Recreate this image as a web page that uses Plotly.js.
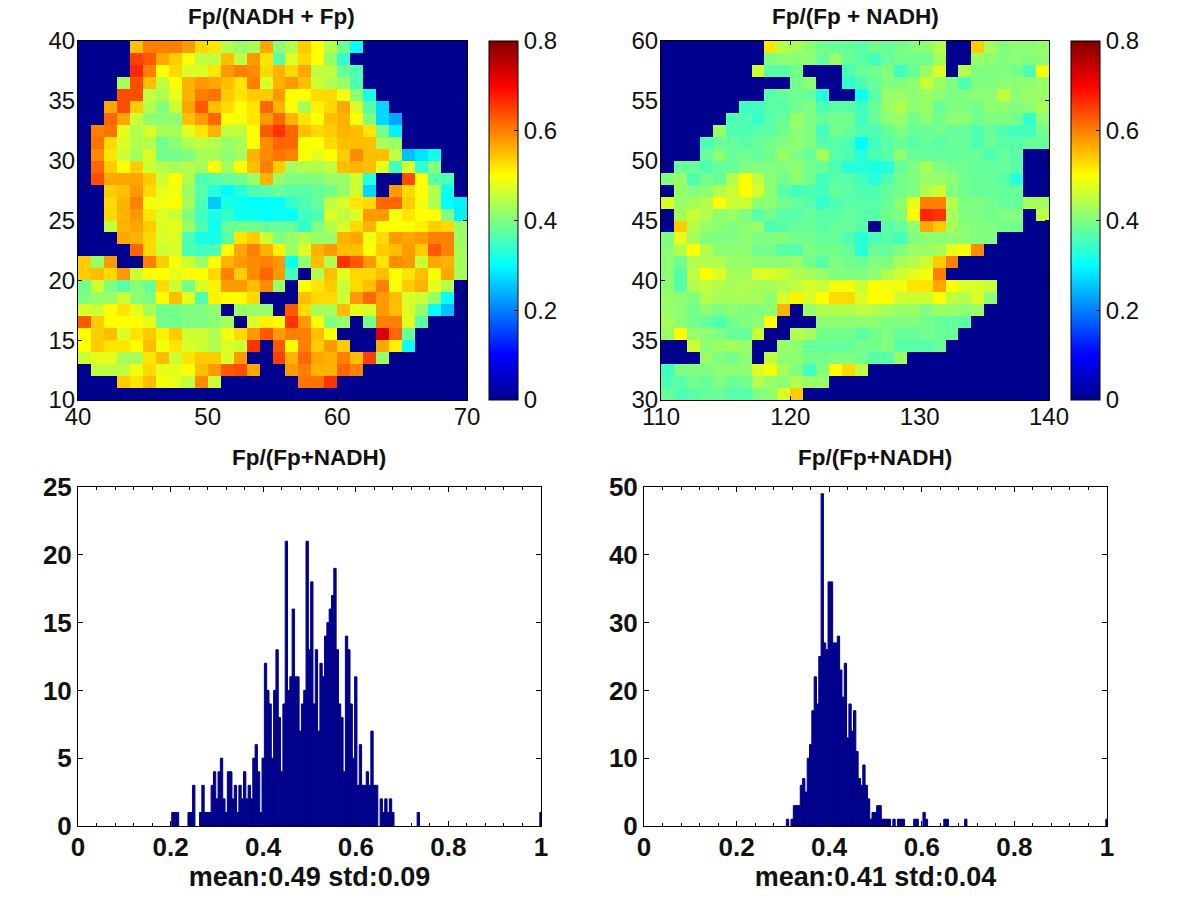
<!DOCTYPE html>
<html>
<head>
<meta charset="utf-8">
<script src="https://cdn.plot.ly/plotly-3.0.1.min.js"></script>
<style>html,body{margin:0;padding:0;background:#fff}#chart{width:1200px;height:900px}</style>
</head>
<body>
<div id="chart"></div>
<script>
// Ratio maps, in hundredths; rows run from the top of each map to the bottom.
const mapLeftRows = [
[0,0,0,0,55,60,60,60,58,53,52,44,42,43,57,41,44,54,50,44,39,30,0,0,0,0,0,0,0,0],
[0,0,0,0,65,63,57,54,50,45,45,55,45,58,52,37,47,53,50,42,34,0,0,0,0,0,0,0,0,0],
[0,0,0,0,67,60,50,53,47,47,52,58,60,59,53,56,53,57,45,45,38,36,0,0,0,0,0,0,0,0],
[0,0,0,43,64,55,45,50,56,58,57,55,52,60,47,56,58,55,46,44,42,36,0,0,0,0,0,0,0,0],
[0,0,0,64,64,45,44,48,56,60,61,54,52,54,54,58,50,50,53,53,49,41,32,0,0,0,0,0,0,0],
[0,0,57,64,54,44,40,46,57,63,55,53,50,52,62,56,50,43,51,53,57,47,37,27,0,0,0,0,0,0],
[0,0,62,57,46,41,41,41,55,58,62,50,49,52,58,62,56,52,50,55,56,50,40,27,23,0,0,0,0,0],
[0,60,61,48,44,47,43,43,48,52,56,45,45,50,63,66,62,55,53,54,56,55,52,39,29,0,0,0,0,0],
[0,61,53,47,44,44,39,41,44,45,44,42,43,50,59,62,62,50,50,53,55,55,55,43,42,0,0,0,0,0],
[0,59,52,46,43,47,39,39,40,43,43,41,43,56,59,61,60,50,48,50,54,59,55,55,45,25,28,31,0,0],
[0,62,54,50,54,46,44,43,44,43,50,43,50,55,60,54,43,44,44,45,55,56,55,48,35,47,34,40,0,0],
[0,64,57,57,57,54,46,50,44,36,37,38,39,42,56,42,40,40,40,42,42,46,33,0,0,64,50,37,36,0],
[0,0,54,55,58,53,48,49,42,37,33,30,33,36,37,38,37,37,38,39,42,46,27,0,58,53,50,44,31,0],
[0,0,53,56,60,49,49,50,43,36,26,32,31,30,30,30,34,36,38,45,47,52,53,62,62,54,49,44,30,29],
[0,0,53,56,58,52,47,46,40,35,32,34,31,31,30,31,30,35,36,47,45,47,58,58,49,52,50,50,40,29],
[0,0,45,56,57,54,47,48,42,36,31,38,39,39,38,38,38,34,40,44,47,53,56,50,50,50,51,54,53,42],
[0,0,0,57,56,53,47,47,36,32,32,37,52,54,46,40,42,44,42,42,56,57,49,53,58,57,58,60,60,42],
[0,0,0,0,62,53,46,47,36,35,36,50,57,60,56,51,42,47,56,58,55,55,50,54,55,58,54,63,60,43],
[54,42,58,0,0,60,54,49,46,42,50,56,58,59,60,58,31,41,55,44,66,63,58,52,59,58,46,57,56,43],
[54,55,53,58,46,50,50,48,50,50,53,60,54,59,62,58,35,0,44,55,48,53,53,55,50,52,55,50,57,43],
[39,46,40,37,41,38,53,46,39,47,51,58,58,55,59,42,0,50,52,54,46,53,55,60,50,54,56,48,44,0],
[40,42,42,46,41,40,50,55,48,36,51,50,50,53,0,0,0,55,53,53,46,58,62,58,55,47,46,42,30,0],
[47,46,50,52,48,43,39,39,40,40,41,0,42,42,42,0,63,53,43,43,55,48,47,58,55,47,42,30,25,0],
[63,54,50,50,50,48,39,39,40,40,41,43,0,47,51,50,66,58,50,40,42,0,39,60,60,48,37,0,0,0],
[50,54,55,47,52,54,51,54,46,46,44,49,53,58,63,58,60,60,55,50,0,0,0,73,62,38,0,0,0,0],
[50,54,52,52,50,55,49,52,47,46,44,47,46,66,0,63,50,60,54,58,54,0,0,57,51,31,0,0,0,0],
[46,48,48,43,43,52,55,46,52,54,54,47,58,0,0,65,56,62,57,56,60,55,65,42,0,0,0,0,0,0],
[0,45,45,45,49,53,48,48,50,55,58,63,64,57,0,0,58,60,56,56,62,60,0,0,0,0,0,0,0,0],
[0,0,0,54,52,55,49,48,45,59,46,0,0,0,0,0,0,61,61,66,0,0,0,0,0,0,0,0,0,0],
[0,0,0,0,0,0,0,0,0,0,0,0,0,0,0,0,0,0,0,0,0,0,0,0,0,0,0,0,0,0]
];
const mapRightRows = [
[0,0,0,0,0,0,0,0,52,44,43,41,39,38,38,37,39,38,39,40,41,44,0,0,54,43,40,41,41,42],
[0,0,0,0,0,0,0,0,40,41,41,41,38,42,38,37,35,38,39,39,39,43,0,0,42,41,40,41,40,41],
[0,0,0,0,0,0,0,46,37,37,39,0,0,0,36,38,39,40,35,38,42,47,0,44,40,40,40,39,36,49],
[0,0,0,0,0,0,0,0,0,0,39,41,0,0,34,36,38,40,40,41,46,42,40,36,40,40,41,41,41,42],
[0,0,0,0,0,0,0,0,37,38,39,38,33,0,0,31,37,42,42,41,42,41,40,40,41,41,45,41,42,42],
[0,0,0,0,0,0,35,35,37,37,39,40,36,37,37,35,38,42,44,41,42,38,40,40,39,41,41,40,41,43],
[0,0,0,0,0,36,36,34,37,38,42,40,38,39,39,35,38,41,42,39,41,39,41,41,39,40,40,39,34,41],
[0,0,0,0,42,36,36,37,37,39,41,40,35,39,38,36,36,38,40,38,38,39,38,38,36,38,36,35,35,39],
[0,0,0,36,38,38,37,38,39,40,41,40,37,37,36,30,35,37,38,37,38,37,38,38,36,38,37,37,38,38],
[0,0,0,38,41,38,39,38,39,42,40,38,43,37,36,33,36,37,41,38,38,38,38,38,38,36,38,37,0,0],
[0,38,38,36,38,38,40,40,40,40,41,39,38,36,33,33,32,33,38,40,43,40,39,39,38,38,38,37,0,0],
[40,42,36,39,38,44,50,45,41,39,41,39,35,37,37,35,33,36,39,40,42,42,41,39,38,38,37,33,0,0],
[0,42,40,41,44,46,50,47,41,37,35,36,35,38,37,36,36,38,39,40,44,46,40,39,38,38,38,38,0,0],
[47,42,43,44,50,46,46,41,41,39,38,37,34,36,37,37,37,38,41,48,60,60,44,40,40,39,38,38,43,43],
[0,43,46,44,41,42,40,37,39,37,37,38,37,37,38,37,37,39,40,50,67,66,43,40,40,39,40,40,0,45],
[0,54,44,42,41,40,41,42,36,37,38,38,37,38,38,37,0,37,38,41,57,54,43,41,40,40,39,39,0,0],
[40,48,43,40,40,40,41,40,40,40,39,39,38,38,36,33,36,37,35,40,41,41,41,41,40,40,0,0,0,0],
[41,44,50,44,41,41,41,39,39,37,37,40,39,39,38,33,38,38,40,42,42,43,48,50,59,0,0,0,0,0],
[41,39,44,44,44,42,42,41,41,41,42,39,37,40,39,38,40,40,43,44,46,54,60,0,0,0,0,0,0,0],
[41,37,45,50,47,43,43,47,47,46,44,43,42,40,40,40,41,44,46,48,49,60,0,0,0,0,0,0,0,0],
[41,37,44,45,44,43,44,43,43,44,45,47,46,49,49,46,50,49,49,52,52,57,50,47,47,46,0,0,0,0],
[42,41,40,44,43,43,43,43,41,47,51,47,50,53,53,47,50,50,46,46,46,50,45,44,47,41,0,0,0,0],
[42,41,39,41,40,41,40,40,41,56,0,42,44,44,44,45,44,43,42,42,40,42,42,41,42,0,0,0,0,0],
[43,41,39,38,36,39,40,41,50,0,0,0,41,41,41,41,41,40,40,40,39,38,38,37,0,0,0,0,0,0],
[42,50,42,41,40,38,38,46,0,0,44,43,39,39,39,37,39,40,38,38,39,38,38,0,0,0,0,0,0,0],
[0,0,46,41,42,43,42,0,0,42,41,38,38,38,38,39,39,40,37,37,37,38,0,0,0,0,0,0,0,0],
[0,0,0,42,40,39,41,0,45,41,41,39,39,40,40,39,37,37,42,0,0,0,0,0,0,0,0,0,0,0],
[35,40,40,40,41,41,41,47,49,43,40,35,40,50,53,45,0,0,0,0,0,0,0,0,0,0,0,0,0,0],
[36,37,39,38,40,38,39,44,42,41,44,42,42,0,0,0,0,0,0,0,0,0,0,0,0,0,0,0,0,0],
[38,36,37,38,38,37,37,40,41,47,54,0,0,0,0,0,0,0,0,0,0,0,0,0,0,0,0,0,0,0]
];

// Histogram bin centres and counts (only the non-empty bins are listed).
const histLeftBins = [0.205,0.21,0.215,0.24,0.245,0.25,0.265,0.27,0.275,0.28,0.285,0.29,0.295,0.3,0.305,0.31,0.315,0.32,0.325,0.33,0.335,0.34,0.345,0.35,0.355,0.36,0.365,0.37,0.375,0.38,0.385,0.39,0.395,0.4,0.405,0.41,0.415,0.42,0.425,0.43,0.435,0.44,0.445,0.45,0.455,0.46,0.465,0.47,0.475,0.48,0.485,0.49,0.495,0.5,0.505,0.51,0.515,0.52,0.525,0.53,0.535,0.54,0.545,0.55,0.555,0.56,0.565,0.57,0.575,0.58,0.585,0.59,0.595,0.6,0.605,0.61,0.615,0.62,0.625,0.63,0.635,0.64,0.645,0.655,0.66,0.665,0.67,0.675,0.68,0.735,1];
const histLeftCounts = [1,1,1,1,1,3,1,3,1,1,1,3,4,2,4,5,2,1,4,4,2,3,1,3,2,4,2,3,2,5,6,4,1,5,12,10,9,5,10,13,8,4,9,21,10,11,16,11,11,7,9,10,21,13,18,9,13,7,12,11,14,15,16,17,19,13,9,8,4,14,13,9,5,11,3,6,3,3,4,3,7,3,3,2,1,2,1,2,1,1,1];
const histRightBins = [0.31,0.32,0.325,0.33,0.335,0.34,0.345,0.35,0.355,0.36,0.365,0.37,0.375,0.38,0.385,0.39,0.395,0.4,0.405,0.41,0.415,0.42,0.425,0.43,0.435,0.44,0.445,0.45,0.455,0.46,0.465,0.47,0.475,0.48,0.485,0.49,0.495,0.5,0.505,0.51,0.515,0.52,0.525,0.53,0.54,0.55,0.555,0.56,0.585,0.59,0.605,0.61,0.65,0.655,0.695,1];
const histRightCounts = [1,1,3,3,3,6,7,5,10,12,17,22,18,25,49,27,26,36,36,27,27,28,23,19,24,13,18,14,17,11,7,6,9,6,4,1,2,2,3,3,1,1,1,1,1,1,1,1,1,1,2,1,1,1,1,1];

const mapLeftX = [40, 70], mapLeftY = [10, 40];
const mapRightX = [110, 140], mapRightY = [30, 60];
const mapLeftXTicks = [40, 50, 60, 70], mapLeftYTicks = [10, 15, 20, 25, 30, 35, 40];
const mapRightXTicks = [110, 120, 130, 140], mapRightYTicks = [30, 35, 40, 45, 50, 55, 60];
const histXTicks = [0, 0.2, 0.4, 0.6, 0.8, 1];
const histLeftYTicks = [0, 5, 10, 15, 20, 25], histRightYTicks = [0, 10, 20, 30, 40, 50];
const colorTicks = [0, 0.2, 0.4, 0.6, 0.8];
const titles = ["Fp/(NADH + Fp)", "Fp/(Fp + NADH)", "Fp/(Fp+NADH)", "Fp/(Fp+NADH)"];
const histLabels = ["mean:0.49 std:0.09", "mean:0.41 std:0.04"];

const W = 1200, H = 900;
const FONT = '"Liberation Sans", Arial, sans-serif';
const px = (a, b) => [a / W, b / W];
const py = (top, bottom) => [1 - bottom / H, 1 - top / H];
const jet = [[0, '#00008f'], [0.125, '#0000ff'], [0.375, '#00ffff'], [0.625, '#ffff00'], [0.875, '#ff0000'], [1, '#800000']];
const scale = rows => rows.map(r => r.map(v => v / 100));

function mapTrace(rows, xr, yr, xa, ya, barLeft) {
  return {
    type: 'heatmap', z: scale(rows), xaxis: xa, yaxis: ya,
    x0: xr[0] + 0.5, dx: 1, y0: yr[1] - 0.5, dy: -1,
    zmin: 0, zmax: 0.8, colorscale: jet, zsmooth: false, hoverinfo: 'skip',
    colorbar: {
      x: barLeft / W, xanchor: 'left', xpad: 0, y: 1 - 41 / H, yanchor: 'top', ypad: 0,
      thickness: 29, thicknessmode: 'pixels', len: 359 / H, lenmode: 'fraction',
      outlinecolor: '#000', outlinewidth: 1, tickmode: 'array', tickvals: colorTicks,
      ticktext: colorTicks.map(String), ticks: 'inside', ticklen: 4, tickcolor: '#000',
      tickfont: {family: FONT, size: 24, color: '#111'}
    }
  };
}
function histTrace(bins, counts, xa, ya) {
  return {type: 'bar', x: bins, y: counts, width: 0.005, xaxis: xa, yaxis: ya,
    marker: {color: '#00008b', line: {color: '#00008b', width: 1}}, hoverinfo: 'skip'};
}
const mapAxis = (dom, ticks, range, extra) => Object.assign({
  domain: dom, range: range, tickmode: 'array', tickvals: ticks, ticktext: ticks.map(String),
  ticks: 'inside', ticklen: 4, tickcolor: '#000', mirror: 'ticks', showline: true, linecolor: '#000', linewidth: 1,
  showgrid: false, zeroline: false, tickfont: {family: FONT, size: 24, color: '#111'}
}, extra);
const histAxis = (dom, ticks, range, extra) => Object.assign({
  domain: dom, range: range, tickmode: 'array', tickvals: ticks, ticktext: ticks.map(String),
  ticks: 'inside', ticklen: 5, tickcolor: '#000', mirror: 'ticks', showline: true, linecolor: '#000', linewidth: 1,
  showgrid: false, zeroline: false, tickfont: {family: FONT, size: 26, color: '#111', weight: 700}
}, extra);
const xLabel = text => ({title: {text: text, font: {family: FONT, size: 27, color: '#111', weight: 700}, standoff: 3}});
const minorX = {minor: {dtick: 0.04, ticks: 'inside', ticklen: 3, tickcolor: '#000', showgrid: false}};

const titleAt = (text, x, y) => ({text: text, xref: 'paper', yref: 'paper', x: x / W, y: 1 - y / H,
  xanchor: 'center', yanchor: 'middle', showarrow: false, font: {family: FONT, size: 22.5, color: '#111', weight: 700}});

const layout = {
  width: W, height: H, margin: {l: 0, r: 0, t: 0, b: 0}, paper_bgcolor: '#fff', plot_bgcolor: '#fff',
  showlegend: false, bargap: 0,
  xaxis: mapAxis(px(78, 467), mapLeftXTicks, mapLeftX, {anchor: 'y', ticklabelstandoff: -5}),
  yaxis: mapAxis(py(41, 400), mapLeftYTicks, mapLeftY, {anchor: 'x', ticklabelstandoff: -3}),
  xaxis2: mapAxis(px(661, 1049), mapRightXTicks, mapRightX, {anchor: 'y2', ticklabelstandoff: -5}),
  yaxis2: mapAxis(py(41, 400), mapRightYTicks, mapRightY, {anchor: 'x2', ticklabelstandoff: -3}),
  xaxis3: histAxis(px(78, 541), histXTicks, [0, 1], Object.assign({anchor: 'y3', ticklabelstandoff: -2}, minorX, xLabel(histLabels[0]))),
  yaxis3: histAxis(py(487, 826), histLeftYTicks, [0, 25], {anchor: 'x3'}),
  xaxis4: histAxis(px(644, 1107), histXTicks, [0, 1], Object.assign({anchor: 'y4', ticklabelstandoff: -2}, minorX, xLabel(histLabels[1]))),
  yaxis4: histAxis(py(487, 826), histRightYTicks, [0, 50], {anchor: 'x4'}),
  annotations: [titleAt(titles[0], 271, 16), titleAt(titles[1], 855, 16), titleAt(titles[2], 309, 458), titleAt(titles[3], 875, 458)]
};
const data = [
  mapTrace(mapLeftRows, mapLeftX, mapLeftY, 'x', 'y', 489),
  mapTrace(mapRightRows, mapRightX, mapRightY, 'x2', 'y2', 1071),
  histTrace(histLeftBins, histLeftCounts, 'x3', 'y3'),
  histTrace(histRightBins, histRightCounts, 'x4', 'y4')
];
Plotly.newPlot('chart', data, layout, {displayModeBar: false, staticPlot: true});
</script>
</body>
</html>
